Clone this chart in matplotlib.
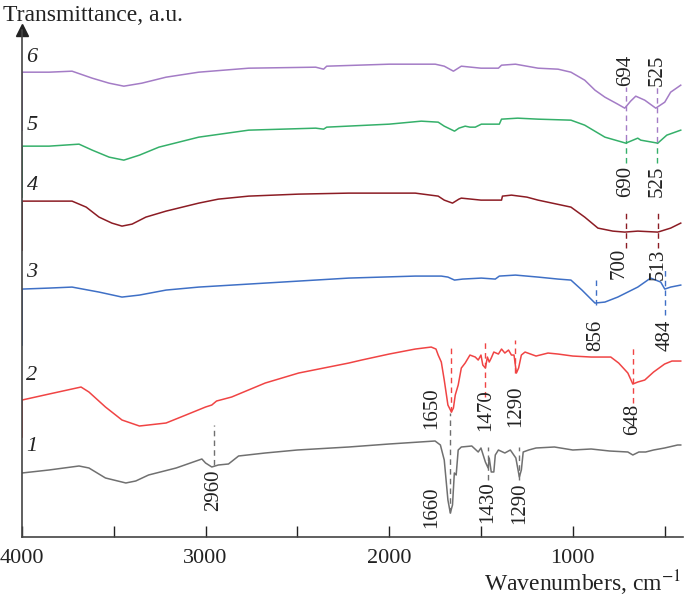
import matplotlib
matplotlib.use('Agg')
import matplotlib.pyplot as plt

plt.rcParams['font.family'] = ['Liberation Serif', 'DejaVu Serif']
plt.rcParams['mathtext.fontset'] = 'stix'

# spectra: wavenumber (cm-1) and transmittance offset (a.u.)
wn_1 = [3999, 3852, 3689, 3635, 3545, 3434, 3380, 3310, 3160, 3020, 3000, 2966, 2930, 2875, 2820, 2675,
        2500, 2220, 2000, 1750, 1721, 1700, 1680, 1667, 1655, 1645, 1635, 1624, 1607, 1550, 1515, 1500,
        1476, 1461, 1455, 1444, 1430, 1422, 1405, 1370, 1340, 1310, 1291, 1280, 1270, 1240, 1200, 1100,
        1000, 900, 800, 700, 673, 640, 603, 560, 500, 429, 412]
t_1 = [64, 67, 71, 69, 59, 54, 56, 62, 69, 78, 74, 70, 72, 73, 81, 84,
       87, 90, 93, 96, 92, 77, 37, 24, 32, 64, 62, 87, 90, 91, 85, 89,
       75, 69, 79, 65, 65, 82, 87, 84, 87, 79, 60, 67, 85, 87, 89, 90,
       87, 88, 86, 85, 82, 85, 85, 87, 89, 92, 92]

wn_2 = [3999, 3999, 3852, 3678, 3635, 3545, 3455, 3360, 3215, 3107, 3000, 2966, 2940, 2858, 2675, 2493,
        2220, 2150, 2000, 1858, 1771, 1745, 1733, 1716, 1700, 1680, 1661, 1650, 1640, 1624, 1607, 1586,
        1560, 1531, 1515, 1500, 1490, 1476, 1465, 1455, 1444, 1430, 1405, 1388, 1370, 1350, 1334, 1320,
        1307, 1295, 1280, 1260, 1200, 1135, 1080, 1000, 900, 793, 750, 700, 673, 646, 608, 560,
        500, 460, 412]
t_2 = [100, 137, 143, 150, 145, 130, 117, 111, 114, 122, 130, 132, 136, 140, 154, 164,
       174, 177, 183, 188, 190, 188, 182, 175, 157, 132, 125, 129, 142, 152, 169, 174,
       182, 180, 177, 182, 172, 169, 180, 175, 179, 185, 183, 188, 184, 187, 182, 182,
       164, 169, 182, 185, 181, 184, 183, 181, 180, 180, 174, 164, 153, 155, 157, 165,
       173, 176, 176]

wn_3 = [3999, 3999, 3852, 3727, 3580, 3455, 3360, 3215, 3037, 2765, 2220, 1858, 1716, 1680, 1644, 1600,
        1498, 1422, 1400, 1312, 1189, 1080, 1010, 950, 879, 825, 755, 646, 576, 521, 499, 467, 412]
t_3 = [192, 248, 249, 250, 245, 240, 242, 247, 250, 253, 259, 261, 261, 260, 257, 258,
       259, 258, 261, 262, 260, 258, 257, 247, 234, 235, 240, 250, 259, 255, 248, 250, 252]

wn_4 = [3999, 3999, 3852, 3727, 3650, 3580, 3510, 3455, 3400, 3325, 3215, 3037, 2930, 2765, 2493, 2220,
        1858, 1733, 1700, 1655, 1620, 1607, 1500, 1388, 1383, 1334, 1250, 1189, 1010, 935, 863, 782,
        717, 646, 537, 467, 412]
t_4 = [287, 336, 336, 336, 330, 320, 314, 311, 313, 320, 326, 334, 338, 341, 343, 344,
       344, 341, 337, 334, 338, 339, 337, 337, 341, 342, 340, 337, 330, 320, 309, 306,
       305, 306, 305, 309, 314]

wn_5 = [3999, 3999, 3852, 3689, 3617, 3525, 3445, 3360, 3254, 3037, 2765, 2400, 2357, 2340, 2000, 1825,
        1733, 1700, 1644, 1620, 1586, 1560, 1531, 1498, 1400, 1388, 1300, 1189, 1010, 935, 825, 711,
        646, 630, 537, 488, 412]
t_5 = [340, 391, 391, 393, 387, 380, 377, 382, 390, 400, 407, 409, 408, 410, 413, 416,
       415, 411, 406, 409, 411, 410, 410, 413, 413, 418, 419, 418, 417, 412, 400, 394,
       399, 397, 394, 402, 407]

wn_6 = [3999, 3999, 3852, 3727, 3617, 3525, 3445, 3347, 3215, 3037, 2765, 2400, 2357, 2340, 2000, 1749,
        1700, 1650, 1607, 1500, 1405, 1388, 1312, 1189, 1080, 1010, 935, 879, 825, 755, 717, 685,
        657, 608, 548, 499, 467, 412]
t_6 = [407, 465, 465, 466, 459, 454, 451, 454, 460, 465, 469, 470, 468, 471, 473, 473,
       471, 466, 471, 469, 469, 472, 473, 469, 468, 465, 457, 447, 440, 433, 429, 436,
       441, 437, 429, 435, 445, 452]

spectra = [(wn_1, t_1, '#707070', '1'), (wn_2, t_2, '#f04444', '2'), (wn_3, t_3, '#3f70c6', '3'),
           (wn_4, t_4, '#8c1c24', '4'), (wn_5, t_5, '#35b06a', '5'), (wn_6, t_6, '#a47cc6', '6')]
curve_label_y = [90, 162, 265, 352, 412, 480]

# band marks: text, line position, line from/to, text centre, text x position, colour
mark_text = ['2960', '1660', '1430', '1290', '1650', '1470', '1290', '648', '856', '484',
             '700', '513', '690', '525', '694', '525']
mark_wn = [2955, 1667, 1461, 1291, 1661, 1476, 1312, 673, 874, 499, 711, 537, 711, 542, 711, 542]
mark_y0 = [72, 24, 57, 57, 125, 140, 164, 134, 232, 222, 289, 289, 374, 374, 397, 395]
mark_y1 = [112, 124, 90, 90, 189, 197, 197, 190, 260, 267, 327, 327, 397, 395, 450, 450]
mark_ty = [47, 30, 35, 34, 129, 127, 131, 118, 202, 202, 274, 273, 356, 356, 467, 467]
mark_tx = [2955, 1771, 1461, 1291, 1771, 1476, 1312, 673, 874, 499, 750, 537, 711, 542, 711, 542]
mark_col = ['#707070'] * 4 + ['#f04444'] * 4 + ['#3f70c6'] * 2 + ['#8c1c24'] * 2 + ['#35b06a'] * 2 + ['#a47cc6'] * 2

fig = plt.figure(figsize=(6.85, 6.04), dpi=100)
ax = fig.add_axes([0.032, 0.111, 0.965, 0.839])

for (x, y, c, lab), ly in zip(spectra, curve_label_y):
    ax.plot(x, y, color=c, lw=1.1)
    ax.text(3945, ly, lab, color='#222222', fontsize=16, style='italic', ha='center', va='center')

for txt, xw, y0, y1, ty, tx, c in zip(mark_text, mark_wn, mark_y0, mark_y1, mark_ty, mark_tx, mark_col):
    ax.plot([xw, xw], [y0, y1], color=c, lw=1.0, dashes=(4, 3))
    ax.text(tx, ty, txt, rotation=90, fontsize=15, color='#222222', ha='center', va='center')

ax.set_xlim(4000, 400)
ax.set_ylim(0, 507)
ax.set_yticks([])
ax.set_xticks([4000, 3500, 3000, 2500, 2000, 1500, 1000, 500])
ax.set_xticklabels(['4000', '', '3000', '', '2000', '', '1000', ''])
ax.tick_params(axis='x', direction='in', length=8, width=1, labelsize=16, pad=9, colors='#222222')
for s in ['top', 'right']:
    ax.spines[s].set_visible(False)
ax.spines['left'].set_color('#444444')
ax.spines['bottom'].set_color('#444444')
ax.spines['left'].set_linewidth(1.2)
ax.spines['bottom'].set_linewidth(1.2)
ax.plot(0, 1.0, marker='^', color='#222222', markersize=8, transform=ax.transAxes, clip_on=False)

fig.text(0.004, 0.975, 'Transmittance, a.u.', fontsize=17, color='#222222', ha='left', va='center')
fig.text(0.995, 0.035, 'Wavenumbers, cm$^{-1}$', fontsize=17, color='#222222', ha='right', va='center')

fig.savefig('out.png', dpi=100)
